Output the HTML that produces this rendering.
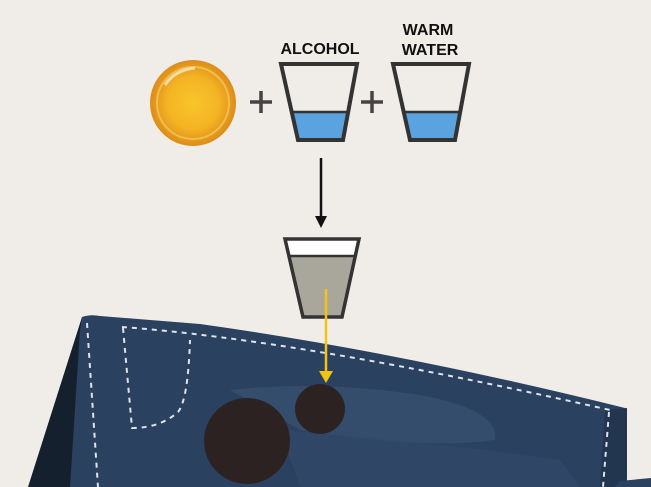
<!DOCTYPE html>
<html><head><meta charset="utf-8"><style>
html,body{margin:0;padding:0;background:#f0ede8;width:651px;height:487px;overflow:hidden}
svg{display:block}
text{font-family:"Liberation Sans",Arial,sans-serif;font-weight:bold;font-size:16px;fill:#111}
</style></head><body>
<svg width="651" height="487" viewBox="0 0 651 487">
<defs>
<radialGradient id="coin" cx="0.5" cy="0.5" r="0.5">
<stop offset="0" stop-color="#f9c52a"/><stop offset="0.6" stop-color="#f4b424"/><stop offset="1" stop-color="#dd8c1a"/>
</radialGradient>
</defs>
<rect width="651" height="487" fill="#f0ede8"/>
<circle cx="193" cy="103" r="43" fill="url(#coin)"/>
<circle cx="193" cy="103" r="36" fill="none" stroke="#f8d36a" stroke-width="2" opacity="0.6"/>
<path d="M165 85 Q175 70 195 68" stroke="#fff" stroke-width="3" fill="none" opacity="0.6"/>
<path d="M250 102h22M261 91v22" stroke="#444" stroke-width="3.5"/>
<path d="M361 102h22M372 91v22" stroke="#444" stroke-width="3.5"/>
<polygon points="292,112 348,112 343,140 298,140" fill="#5aa3e0"/>
<path d="M292 112h56" stroke="#333" stroke-width="2.5"/>
<polygon points="281,64 357,64 343,140 298,140" fill="none" stroke="#333" stroke-width="4"/>
<text x="320" y="54" text-anchor="middle">ALCOHOL</text>
<polygon points="404,112 460,112 455,140 410,140" fill="#5aa3e0"/>
<path d="M404 112h56" stroke="#333" stroke-width="2.5"/>
<polygon points="393,64 469,64 455,140 410,140" fill="none" stroke="#333" stroke-width="4"/>
<text x="428" y="35" text-anchor="middle">WARM</text>
<text x="430" y="55" text-anchor="middle">WATER</text>
<path d="M321 158v60" stroke="#111" stroke-width="2.5"/>
<polygon points="315,216 327,216 321,228" fill="#111"/>
<polygon points="285,239 359,239 342,317 303,317" fill="#a9a79c"/>
<polygon points="285,239 359,239 355,256 289,256" fill="#fff"/>
<path d="M289 256h66" stroke="#333" stroke-width="2.5"/>
<polygon points="285,239 359,239 342,317 303,317" fill="none" stroke="#333" stroke-width="3.5"/>
<polygon points="82,317 28,487 80,487 95,330" fill="#14202e"/>
<path d="M82,317 Q90,314 100,316 L200,324 Q400,352 625,408 L627,487 L70,487 L80,330 Z" fill="#2b4160"/>
<path d="M230,390 Q320,380 420,395 Q500,410 495,440 Q420,450 300,430 Z" fill="#3a5272" opacity="0.7"/>
<path d="M280,430 Q420,440 560,460 L580,487 L300,487 Z" fill="#334a6a" opacity="0.6"/>
<path d="M605,410 L627,408 L627,487 L600,487 Z" fill="#223650"/>
<polygon points="615,487 620,481 651,478 651,487" fill="#2b4160"/>
<g stroke="#dfe3ea" stroke-width="2" stroke-dasharray="5,5" fill="none">
<path d="M87,323 L98,487"/>
<path d="M122,327 Q300,340 610,410"/>
<path d="M609,412 L603,487"/>
<path d="M123,328 L132,428 Q160,428 178,412 Q188,400 190,340"/>
</g>
<circle cx="247" cy="441" r="43" fill="#2c2222"/>
<circle cx="320" cy="409" r="25" fill="#2c2222"/>
<path d="M326 289v84" stroke="#f3c313" stroke-width="2.5"/>
<polygon points="319,371 333,371 326,383" fill="#f3c313"/>
</svg>
</body></html>
